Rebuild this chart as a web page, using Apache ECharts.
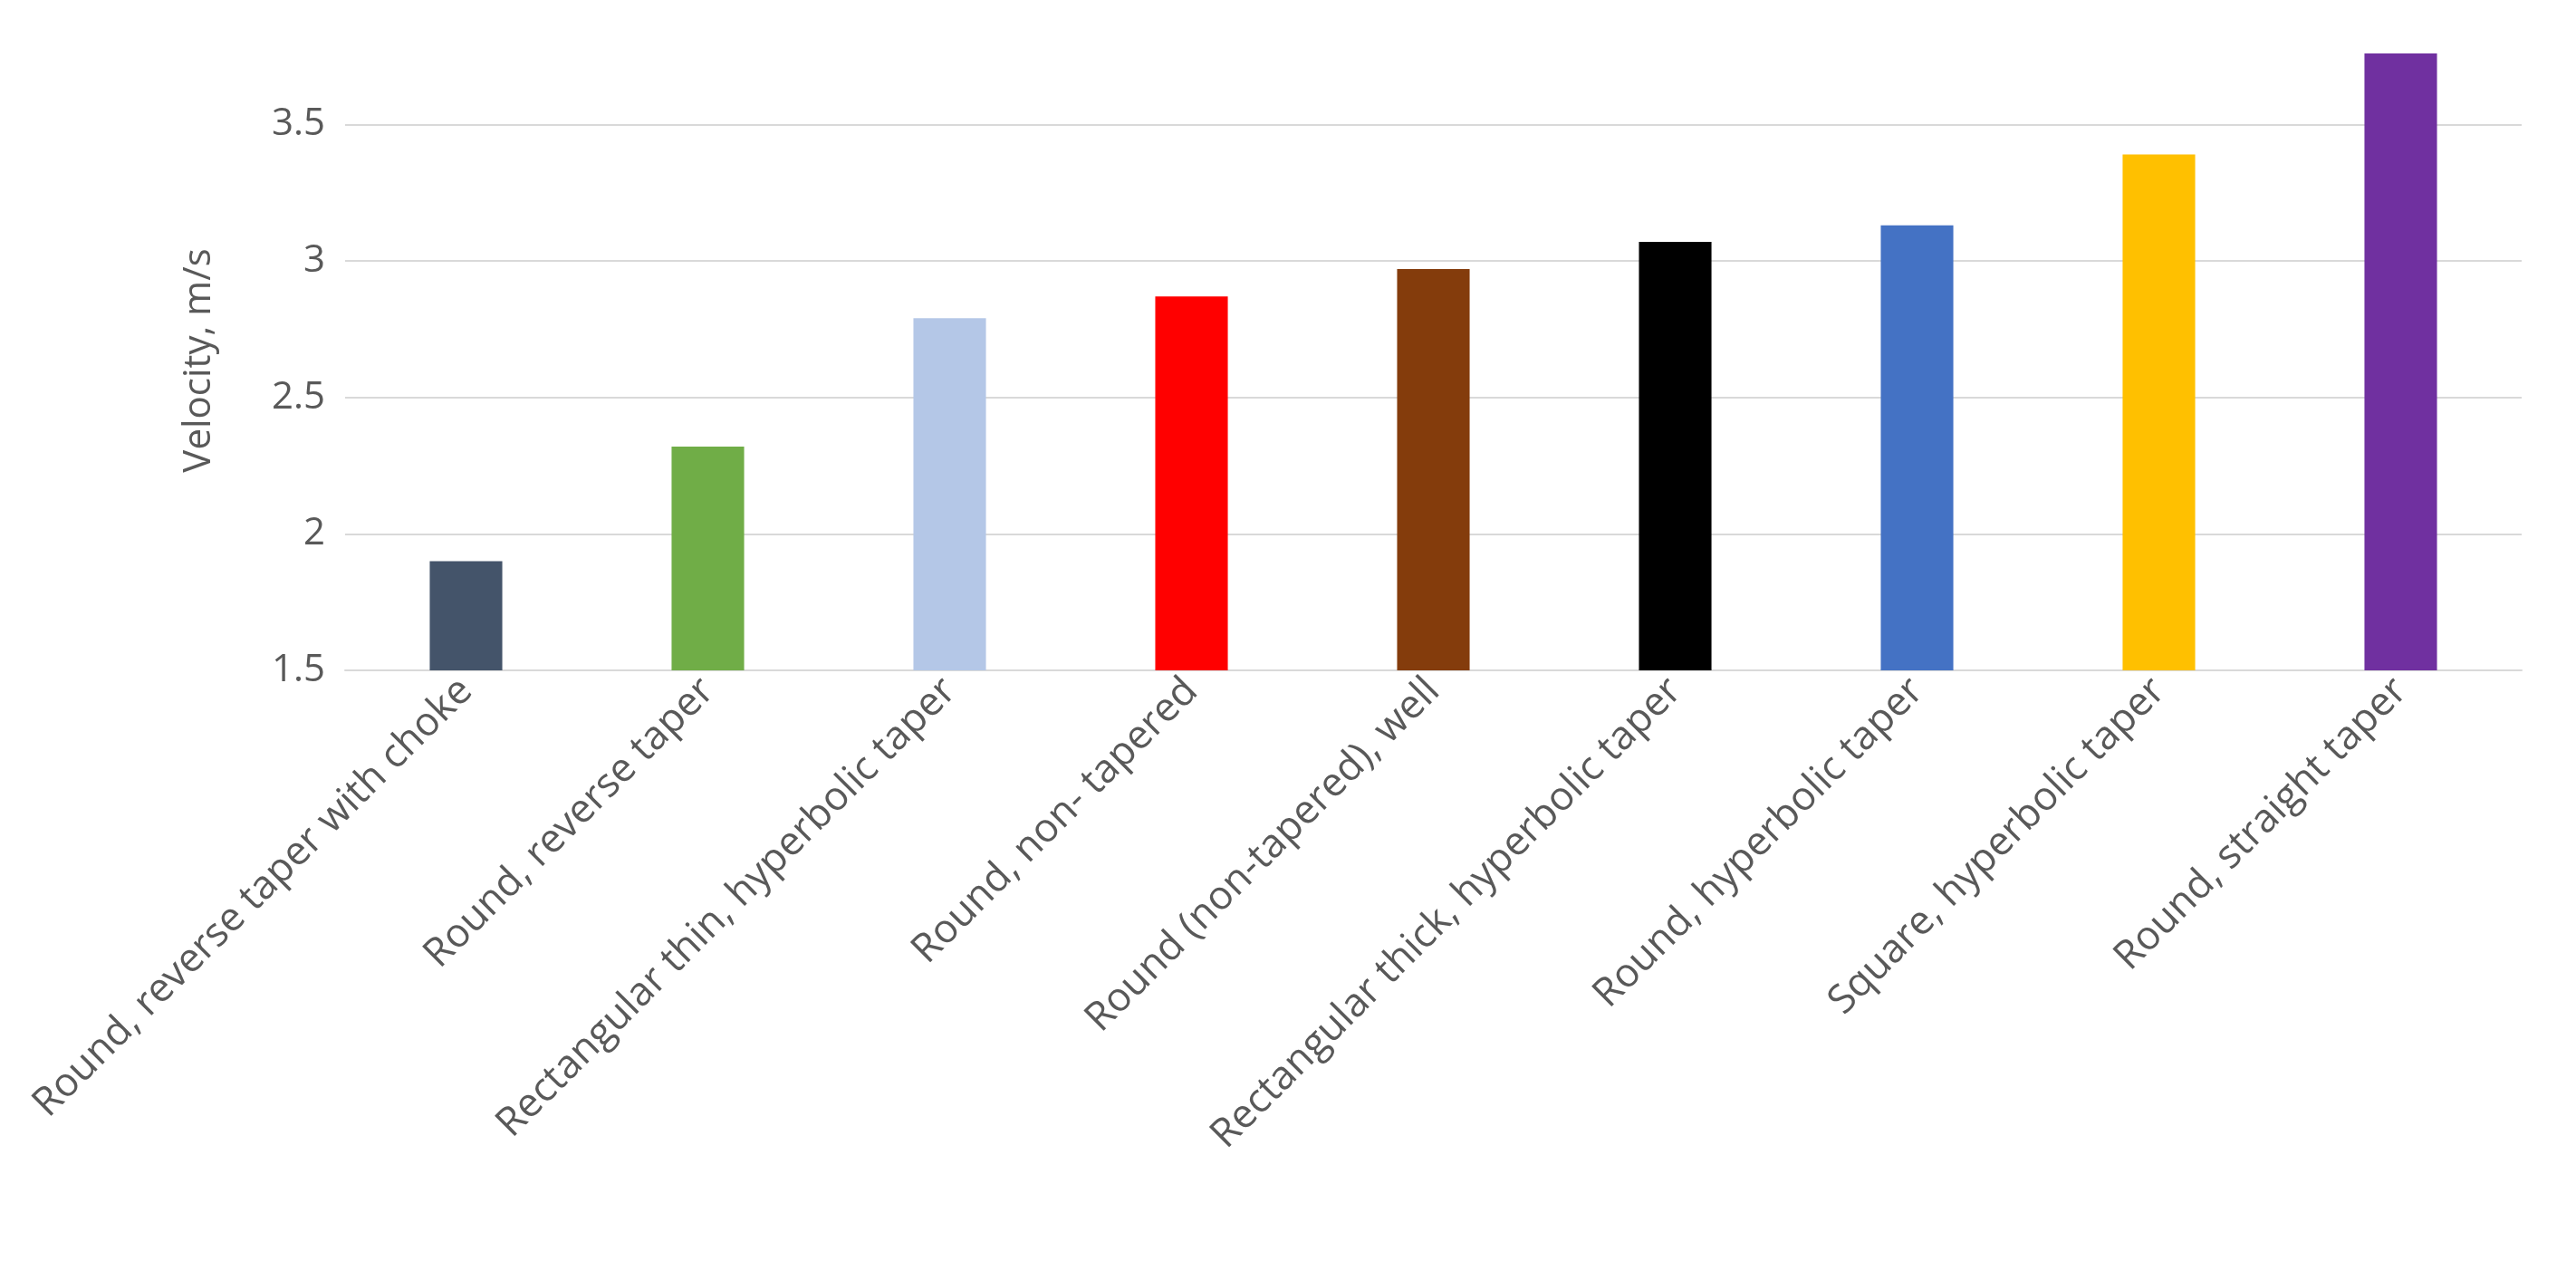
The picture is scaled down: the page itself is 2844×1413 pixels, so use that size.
<!DOCTYPE html>
<html>
<head>
<meta charset="utf-8">
<script src="https://cdn.jsdelivr.net/npm/echarts@6/dist/echarts.min.js"></script>
<style>html,body{margin:0;padding:0;background:#fff}#chart{width:2844px;height:1413px}</style>
</head>
<body>
<div id="chart"></div>
<script>
// 分类
const categories = [
	'Round, reverse taper with choke',
	'Round, reverse taper',
	'Rectangular thin, hyperbolic taper',
	'Round, non- tapered',
	'Round (non-tapered), well',
	'Rectangular thick, hyperbolic taper',
	'Round, hyperbolic taper',
	'Square, hyperbolic taper',
	'Round, straight taper'
]
const velocity = [1.9, 2.32, 2.79, 2.87, 2.97, 3.07, 3.13, 3.39, 3.76]
const barColors = ['#44546A', '#70AD47', '#B4C7E7', '#FF0000', '#843C0C', '#000000', '#4472C4', '#FFC000', '#7030A0']

const myChart = echarts.init(document.getElementById('chart'))
myChart.setOption({
	animation: false,
	grid: { left: 381, right: 60, top: 56, bottom: 673 },
	xAxis: {
		type: 'category',
		data: categories,
		axisLine: { lineStyle: { color: '#D9D9D9', width: 2 } },
		axisTick: { show: false },
		axisLabel: {
			rotate: 45, interval: 0, color: '#595959', fontSize: 44, margin: 16,
			fontFamily: 'Open Sans'
		}
	},
	yAxis: {
		type: 'value',
		min: 1.5, max: 3.77, interval: 0.5,
		name: 'Velocity, m/s',
		nameLocation: 'middle',
		nameGap: 140,
		nameTextStyle: { color: '#595959', fontSize: 42, fontFamily: 'Open Sans' },
		axisLine: { show: false },
		axisTick: { show: false },
		axisLabel: { color: '#595959', fontSize: 42, margin: 22, showMaxLabel: false, fontFamily: 'Open Sans' },
		splitLine: { showMaxLine: false, lineStyle: { color: '#D9D9D9', width: 2 } }
	},
	series: [{
		type: 'bar',
		barWidth: '30%',
		data: velocity.map((v, i) => ({ value: v, itemStyle: { color: barColors[i] } }))
	}]
})
</script>
</body>
</html>
